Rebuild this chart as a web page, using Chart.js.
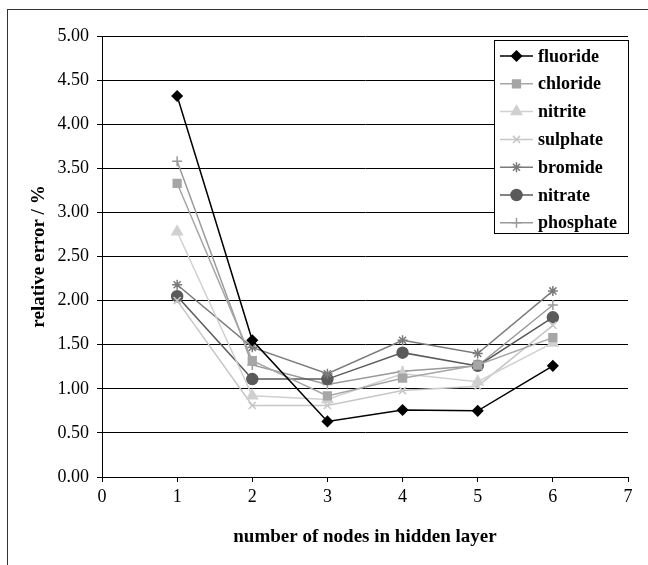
<!DOCTYPE html>
<html>
<head>
<meta charset="utf-8">
<script src="https://cdn.jsdelivr.net/npm/chart.js@4/dist/chart.umd.min.js"></script>
<style>
  html, body { margin: 0; padding: 0; background: #fff; }
  #wrap { position: relative; width: 648px; height: 565px; overflow: hidden; }
  #frame { position: absolute; left: 7px; top: 9px; width: 700px; height: 600px;
           border-left: 1px solid #333; border-top: 1px solid #333; box-sizing: border-box; }
  canvas { position: absolute; left: 0; top: 0; }
</style>
</head>
<body>
<div id="wrap">
  <div id="frame"></div>
  <canvas id="c" width="648" height="565"></canvas>
</div>
<script>
const nodes = [1, 2, 3, 4, 5, 6];
const fluoride  = [4.32, 1.55, 0.63, 0.76, 0.75, 1.26];
const chloride  = [3.33, 1.32, 0.92, 1.12, 1.27, 1.58];
const nitrite   = [2.78, 0.92, 0.88, 1.17, 1.08, 1.52];
const sulphate  = [2.00, 0.81, 0.81, 0.98, 1.03, 1.72];
const bromide   = [2.18, 1.47, 1.17, 1.55, 1.40, 2.11];
const nitrate   = [2.05, 1.11, 1.11, 1.41, 1.26, 1.81];
const phosphate = [3.58, 1.27, 1.05, 1.20, 1.26, 1.95];
const seriesNames = ['fluoride', 'chloride', 'nitrite', 'sulphate', 'bromide', 'nitrate', 'phosphate'];
const seriesValues = [fluoride, chloride, nitrite, sulphate, bromide, nitrate, phosphate];
const xTicks = [0, 1, 2, 3, 4, 5, 6, 7];
const yTicks = [0, 0.5, 1, 1.5, 2, 2.5, 3, 3.5, 4, 4.5, 5];

const styles = [
  { color: '#000000', point: 'rectRot', r: 5 },
  { color: '#a6a6a6', point: 'rect', r: 5.5 },
  { color: '#d0d0d0', point: 'triangle', r: 6 },
  { color: '#c6c6c6', point: 'crossRot', r: 5 },
  { color: '#7a7a7a', point: 'star', r: 5 },
  { color: '#5a5a5a', point: 'circle', r: 5.5 },
  { color: '#9a9a9a', point: 'cross', r: 5 }
];

const datasets = seriesNames.map((name, i) => ({
  label: name,
  data: nodes.map((x, j) => ({ x: x, y: seriesValues[i][j] })),
  showLine: true,
  borderColor: styles[i].color,
  backgroundColor: styles[i].color,
  pointBorderColor: styles[i].color,
  pointBackgroundColor: styles[i].color,
  pointStyle: styles[i].point,
  pointRadius: styles[i].r,
  pointBorderWidth: 1.5,
  borderWidth: 1.5,
  tension: 0
}));

const SERIF = '"Liberation Serif", "Times New Roman", serif';

const customDraw = {
  id: 'customDraw',
  afterDraw(chart) {
    const ctx = chart.ctx;
    const area = chart.chartArea;
    ctx.save();
    ctx.fillStyle = '#000';
    ctx.font = 'bold 19px ' + SERIF;
    ctx.textAlign = 'center';
    ctx.textBaseline = 'middle';
    ctx.fillText('number of nodes in hidden layer', (area.left + area.right) / 2, 537);
    ctx.save();
    ctx.translate(39, (area.top + area.bottom) / 2);
    ctx.rotate(-Math.PI / 2);
    ctx.fillText('relative error / %', 0, 0);
    ctx.restore();

    const lx = 494, ly = 40, lw = 134, lh = 193;
    ctx.fillStyle = '#fff';
    ctx.fillRect(lx, ly, lw, lh);
    ctx.strokeStyle = '#000';
    ctx.lineWidth = 1;
    ctx.strokeRect(lx + 0.5, ly + 0.5, lw, lh);
    chart.data.datasets.forEach((ds, i) => {
      const cy = 56 + i * 27.8;
      ctx.strokeStyle = ds.borderColor;
      ctx.lineWidth = 1.5;
      ctx.beginPath();
      ctx.moveTo(500, cy);
      ctx.lineTo(533, cy);
      ctx.stroke();
      ctx.fillStyle = ds.pointBackgroundColor;
      ctx.strokeStyle = ds.pointBorderColor;
      ctx.lineWidth = 1.5;
      Chart.helpers.drawPoint(ctx, {
        pointStyle: ds.pointStyle, radius: ds.pointRadius, borderWidth: 1.5, rotation: 0
      }, 516.5, cy);
      ctx.fillStyle = '#000';
      ctx.font = 'bold 18px ' + SERIF;
      ctx.textAlign = 'left';
      ctx.textBaseline = 'middle';
      ctx.fillText(ds.label, 538, cy + 1);
    });
    ctx.restore();
  }
};

new Chart(document.getElementById('c'), {
  type: 'scatter',
  data: { datasets: datasets },
  plugins: [customDraw],
  options: {
    responsive: false,
    animation: false,
    layout: { padding: { left: 0, right: 20, top: 36, bottom: 0 } },
    plugins: { legend: { display: false }, tooltip: { enabled: false } },
    scales: {
      x: {
        type: 'linear',
        min: 0, max: 7,
        afterBuildTicks: (s) => { s.ticks = xTicks.map(v => ({ value: v })); },
        afterFit: (s) => { s.height = 88; },
        ticks: { color: '#000', font: { family: SERIF, size: 18 }, padding: 4,
                 callback: (v) => String(v) },
        grid: { drawOnChartArea: false, drawTicks: true, tickLength: 5, color: '#000' },
        border: { display: true, color: '#000', width: 1 }
      },
      y: {
        type: 'linear',
        min: 0, max: 5,
        afterBuildTicks: (s) => { s.ticks = yTicks.map(v => ({ value: v })); },
        afterFit: (s) => { s.width = 102; },
        ticks: { color: '#000', font: { family: SERIF, size: 18 }, padding: 8,
                 callback: (v) => Number(v).toFixed(2) },
        grid: { drawOnChartArea: true, drawTicks: true, tickLength: 5, color: '#000', lineWidth: 1 },
        border: { display: true, color: '#000', width: 1 }
      }
    }
  }
});
</script>
</body>
</html>
